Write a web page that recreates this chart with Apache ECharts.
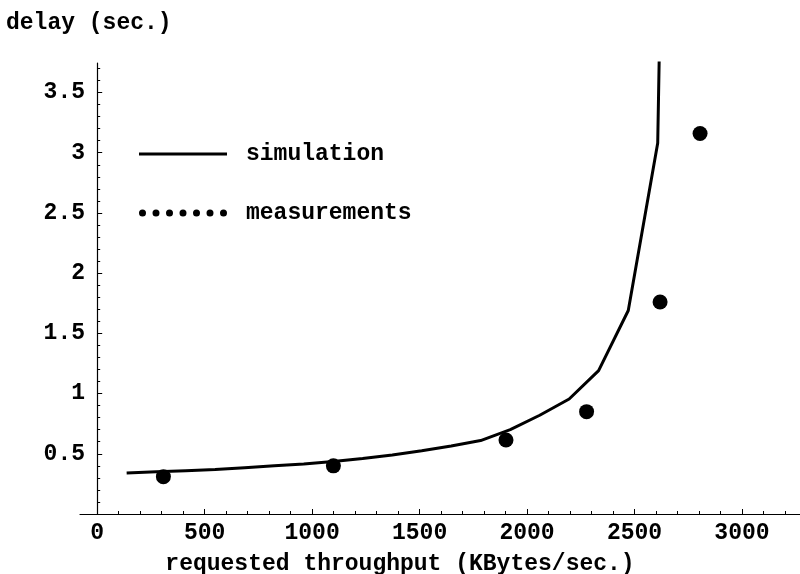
<!DOCTYPE html>
<html>
<head>
<meta charset="utf-8">
<script src="https://cdn.jsdelivr.net/npm/echarts@6/dist/echarts.min.js"></script>
<style>html,body{margin:0;padding:0;background:#fff}#c{width:800px;height:574px}</style>
</head>
<body>
<div id="c"></div>
<script>
// Simulation curve (requested throughput KBytes/sec, delay sec.)
var simX = [137, 275, 412, 549, 686, 824, 961, 1098, 1235, 1373, 1510, 1647, 1784, 1922, 2059, 2196, 2333, 2471, 2608, 2745];
var simY = [0.34, 0.35, 0.36, 0.37, 0.385, 0.40, 0.415, 0.435, 0.46, 0.49, 0.525, 0.565, 0.61, 0.70, 0.82, 0.955, 1.19, 1.69, 3.08, 17];
// Measurements
var measX = [308, 1099, 1902, 2277, 2619, 2805];
var measY = [0.31, 0.40, 0.615, 0.85, 1.76, 3.16];
// Ticks
var xMajor = [0, 500, 1000, 1500, 2000, 2500, 3000];
var xMinor = [100, 200, 300, 400, 600, 700, 800, 900, 1100, 1200, 1300, 1400, 1600, 1700, 1800, 1900, 2100, 2200, 2300, 2400, 2600, 2700, 2800, 2900, 3100, 3200];
var yMajor = [0.5, 1, 1.5, 2, 2.5, 3, 3.5];
var yMinor = [0.1, 0.2, 0.3, 0.4, 0.6, 0.7, 0.8, 0.9, 1.1, 1.2, 1.3, 1.4, 1.6, 1.7, 1.8, 1.9, 2.1, 2.2, 2.3, 2.4, 2.6, 2.7, 2.8, 2.9, 3.1, 3.2, 3.3, 3.4, 3.6, 3.7];
var seriesNames = ['simulation', 'measurements'];
var yTitle = 'delay (sec.)';
var xTitle = 'requested throughput (KBytes/sec.)';

var FONT = 'Liberation Mono';
var FS = 23;
var X_MIN = -80, X_MAX = 3270, Y_MIN = 0, Y_MAX = 3.745;

function pairs(xs, ys) { return xs.map(function (x, i) { return [x, ys[i]]; }); }

// seven dots legend icon
var dots = '';
for (var i = 0; i < 7; i++) {
  var cx = 3.5 + i * 13.5;
  dots += 'M' + (cx - 3.5) + ',3.5 a3.5,3.5 0 1,0 7,0 a3.5,3.5 0 1,0 -7,0 Z ';
}

var chart = echarts.init(document.getElementById('c'), null, { renderer: 'canvas' });
chart.setOption({
  animation: false,
  backgroundColor: '#fff',
  textStyle: { fontFamily: FONT, fontWeight: 'bold', color: '#000' },
  title: [
    { text: yTitle, left: 6, top: 12, padding: 0,
      textStyle: { fontFamily: FONT, fontWeight: 'bold', fontSize: FS, color: '#000' } },
    { text: xTitle, left: 'center', top: 553, padding: 0,
      textStyle: { fontFamily: FONT, fontWeight: 'bold', fontSize: FS, color: '#000' } }
  ],
  legend: {
    orient: 'vertical', left: 139, top: 142, itemWidth: 88, itemHeight: 7, itemGap: 35,
    padding: 0,
    textStyle: { fontFamily: FONT, fontWeight: 'bold', fontSize: FS, color: '#000', lineHeight: 24, padding: [0, 0, 0, 14] },
    data: [
      { name: seriesNames[0], icon: 'path://M0,0 L88,0 L88,3 L0,3 Z', itemStyle: { color: '#000' } },
      { name: seriesNames[1], icon: 'path://' + dots, itemStyle: { color: '#000' } }
    ]
  },
  grid: { left: 80, right: 0, top: 63, bottom: 60, containLabel: false },
  xAxis: [
    {
      type: 'value', min: X_MIN, max: X_MAX, position: 'bottom',
      splitLine: { show: false },
      axisLine: { onZero: true, lineStyle: { color: '#000', width: 1.2 } },
      axisTick: { inside: true, length: 5, customValues: xMajor, lineStyle: { color: '#000', width: 1 } },
      axisLabel: { customValues: xMajor, margin: 8, fontFamily: FONT, fontWeight: 'bold', fontSize: FS, color: '#000',
        formatter: function (v) { return String(v); } }
    },
    {
      type: 'value', min: X_MIN, max: X_MAX, position: 'bottom',
      splitLine: { show: false },
      axisLine: { show: false },
      axisTick: { inside: true, length: 3, customValues: xMinor, lineStyle: { color: '#000', width: 1 } },
      axisLabel: { show: false }
    }
  ],
  yAxis: [
    {
      type: 'value', min: Y_MIN, max: Y_MAX, position: 'left',
      splitLine: { show: false },
      axisLine: { onZero: true, lineStyle: { color: '#000', width: 1.2 } },
      axisTick: { inside: true, length: 5, customValues: yMajor, lineStyle: { color: '#000', width: 1 } },
      axisLabel: { customValues: yMajor, margin: -5, fontFamily: FONT, fontWeight: 'bold', fontSize: FS, color: '#000',
        formatter: function (v) { return String(v); } }
    },
    {
      type: 'value', min: Y_MIN, max: Y_MAX, position: 'left',
      splitLine: { show: false },
      axisLine: { show: false },
      axisTick: { inside: true, length: 3, customValues: yMinor, lineStyle: { color: '#000', width: 1 } },
      axisLabel: { show: false }
    }
  ],
  series: [
    {
      name: seriesNames[0], type: 'line', xAxisIndex: 0, yAxisIndex: 0,
      data: pairs(simX, simY), symbol: 'none', clip: true,
      lineStyle: { color: '#000', width: 3 }, itemStyle: { color: '#000' }
    },
    {
      name: seriesNames[1], type: 'scatter', xAxisIndex: 0, yAxisIndex: 0,
      data: pairs(measX, measY), symbol: 'circle', symbolSize: 15,
      itemStyle: { color: '#000', opacity: 1 }
    }
  ]
});
</script>
</body>
</html>
